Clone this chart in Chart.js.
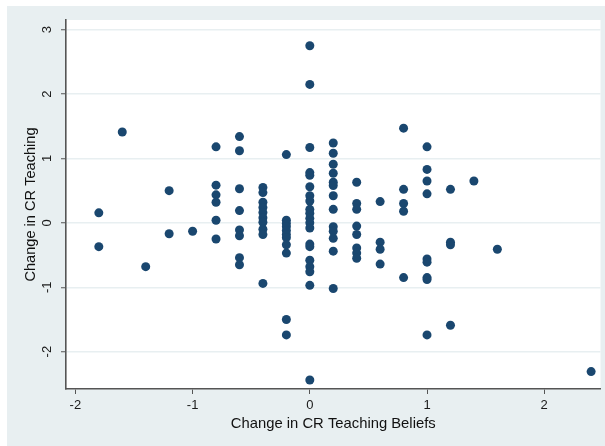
<!DOCTYPE html>
<html>
<head>
<meta charset="utf-8">
<script src="https://cdn.jsdelivr.net/npm/chart.js@4/dist/chart.umd.min.js"></script>
<style>
  html, body { margin: 0; padding: 0; background: #fff; }
  #wrap { width: 605px; height: 446px; }
</style>
</head>
<body>
<div id="wrap"><canvas id="grafico" width="605" height="446"></canvas></div>
<script>
// change in beliefs (x) and change in teaching (y), one entry per teacher
const beliefsChange = [
  -1.8, -1.8,
  -1.6,
  -1.4,
  -1.2, -1.2,
  -1.0,
  -0.8, -0.8, -0.8, -0.8, -0.8, -0.8,
  -0.6, -0.6, -0.6, -0.6, -0.6, -0.6, -0.6, -0.6,
  -0.4, -0.4, -0.4, -0.4, -0.4, -0.4, -0.4, -0.4, -0.4, -0.4,
  -0.2, -0.2, -0.2, -0.2, -0.2, -0.2, -0.2, -0.2, -0.2, -0.2, -0.2,
  0, 0, 0, 0, 0, 0, 0, 0, 0, 0, 0, 0, 0, 0, 0, 0, 0, 0, 0, 0,
  0.2, 0.2, 0.2, 0.2, 0.2, 0.2, 0.2, 0.2, 0.2, 0.2, 0.2, 0.2, 0.2,
  0.4, 0.4, 0.4, 0.4, 0.4, 0.4, 0.4, 0.4,
  0.6, 0.6, 0.6, 0.6,
  0.8, 0.8, 0.8, 0.8, 0.8,
  1.0, 1.0, 1.0, 1.0, 1.0, 1.0, 1.0, 1.0, 1.0,
  1.2, 1.2, 1.2, 1.2,
  1.4,
  1.6,
  2.4
];
const teachingChange = [
  0.155, -0.37,
  1.41,
  -0.68,
  0.50, -0.17,
  -0.13,
  1.18, 0.585, 0.435, 0.32, 0.04, -0.25,
  1.34, 1.12, 0.53, 0.19, -0.11, -0.20, -0.54, -0.65,
  0.55, 0.47, 0.32, 0.24, 0.16, 0.08, 0.01, -0.10, -0.18, -0.94,
  1.06, 0.04, -0.01, -0.06, -0.12, -0.18, -0.23, -0.34, -0.47, -1.50, -1.74,
  2.75, 2.15, 1.17, 0.78, 0.74, 0.56, 0.42, 0.34, 0.21, 0.15, 0.07, 0.0, -0.08, -0.33, -0.37, -0.58, -0.68, -0.76, -0.97, -2.44,
  1.24, 1.08, 0.91, 0.77, 0.63, 0.58, 0.42, 0.21, -0.06, -0.13, -0.24, -0.44, -1.02,
  0.63, 0.30, 0.21, -0.05, -0.18, -0.39, -0.47, -0.55,
  0.33, -0.30, -0.41, -0.64,
  1.47, 0.52, 0.30, 0.18, -0.85,
  1.18, 0.83, 0.65, 0.45, -0.56, -0.61, -0.85, -0.88, -1.74,
  0.52, -0.30, -0.34, -1.59,
  0.65,
  -0.41,
  -2.31
];
const xTicks = [-2, -1, 0, 1, 2];
const yTicks = [-2, -1, 0, 1, 2, 3];

const pontos = beliefsChange.map((x, i) => ({ x: x, y: teachingChange[i] }));

// fundo cinza-azulado estilo Stata, area do grafico branca
const fundo = {
  id: 'fundo',
  beforeDraw(chart) {
    const { ctx, chartArea: a } = chart;
    ctx.save();
    ctx.fillStyle = '#ffffff';
    ctx.fillRect(0, 0, chart.width, chart.height);
    ctx.fillStyle = '#e8eff1';
    ctx.fillRect(7, 6, chart.width - 7, chart.height - 6);
    ctx.fillStyle = '#ffffff';
    ctx.fillRect(a.left, a.top, a.right - a.left, a.bottom - a.top);
    ctx.restore();
  }
};

const fonte = "'Liberation Sans', Arial, Helvetica, sans-serif";

new Chart(document.getElementById('grafico').getContext('2d'), {
  type: 'scatter',
  data: {
    datasets: [{
      data: pontos,
      backgroundColor: '#1a476f',
      borderColor: '#1a476f',
      borderWidth: 0,
      pointRadius: 4.5,
      pointHoverRadius: 4.5
    }]
  },
  options: {
    responsive: false,
    animation: false,
    layout: { padding: { left: 0, top: 20, right: 4, bottom: 0 } },
    plugins: {
      legend: { display: false },
      tooltip: { enabled: false }
    },
    scales: {
      x: {
        type: 'linear',
        min: -2.08,
        max: 2.48,
        afterBuildTicks: s => { s.ticks = xTicks.map(v => ({ value: v })); },
        afterFit: s => { s.height = 57; },
        border: { display: true, color: '#555555', width: 1.6 },
        grid: { display: true, drawOnChartArea: false, drawTicks: true, tickLength: 5, tickColor: '#555555', tickWidth: 1 },
        ticks: { color: '#1a1a1a', font: { family: fonte, size: 13 }, padding: 4, maxRotation: 0 },
        title: {
          display: true,
          text: 'Change in CR Teaching Beliefs',
          color: '#111',
          font: { family: fonte, size: 14.8 },
          padding: { top: 0, bottom: 13 }
        }
      },
      y: {
        type: 'linear',
        min: -2.58,
        max: 3.15,
        afterBuildTicks: s => { s.ticks = yTicks.map(v => ({ value: v })); },
        afterFit: s => { s.width = 66; },
        border: { display: true, color: '#555555', width: 1.6 },
        grid: { color: '#e8eff1', lineWidth: 1.5, tickLength: 5, tickColor: '#555555', tickWidth: 1 },
        ticks: {
          color: '#1a1a1a',
          font: { family: fonte, size: 13 },
          padding: 8,
          minRotation: 90,
          maxRotation: 90,
          crossAlign: 'center'
        },
        title: {
          display: true,
          text: 'Change in CR Teaching',
          color: '#111',
          font: { family: fonte, size: 14.6 },
          padding: { top: 22, bottom: 0 }
        }
      }
    }
  },
  plugins: [fundo]
});
</script>
</body>
</html>
